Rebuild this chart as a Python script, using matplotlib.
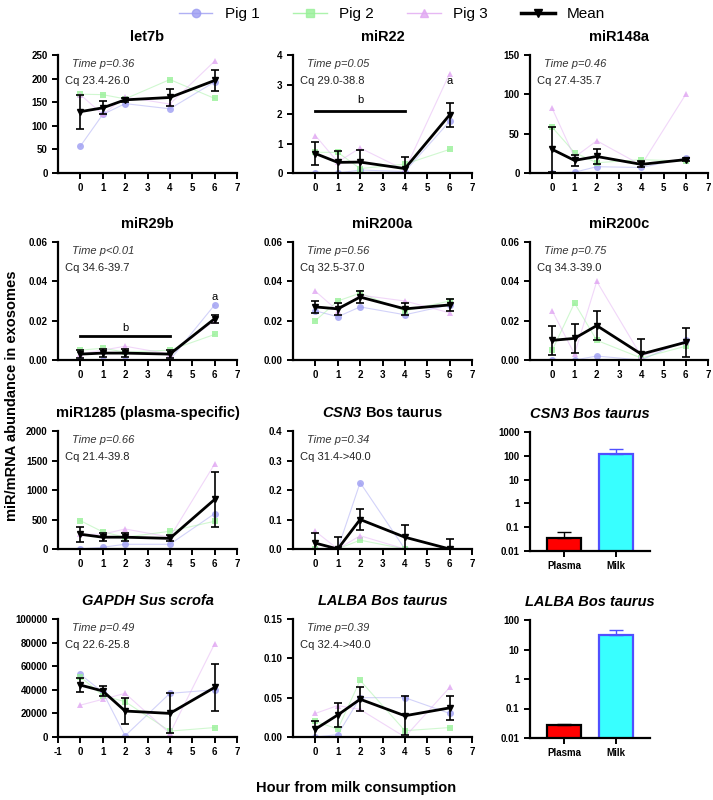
import matplotlib.pyplot as plt
import numpy as np

plt.rcParams['font.family'] = ['Liberation Sans', 'DejaVu Sans']
plt.rcParams['axes.unicode_minus'] = False
plt.rcParams['mathtext.fontset'] = 'custom'
plt.rcParams['mathtext.bfit'] = 'Liberation Sans:italic:bold'
plt.rcParams['mathtext.bf'] = 'Liberation Sans:bold'

hours = [0, 1, 2, 4, 6]

let7b_p1 = [57, 124, 147, 136, 193]
let7b_p2 = [167, 166, 157, 198, 158]
let7b_p3 = [166, 124, 161, 146, 237]
let7b_mean = [130, 138, 155, 160, 196]
let7b_sem = [36, 14, 4, 19, 23]

mir22_p1 = [0.0, 0.0, 0.1, 0.05, 1.75]
mir22_p2 = [0.7, 0.7, 0.15, 0.3, 0.8]
mir22_p3 = [1.27, 0.37, 0.85, 0.1, 3.37]
mir22_mean = [0.66, 0.36, 0.37, 0.15, 1.97]
mir22_sem = [0.4, 0.38, 0.4, 0.4, 0.4]

mir148_p1 = [0, 1, 8, 7, 19]
mir148_p2 = [58, 26, 13, 17, 15]
mir148_p3 = [82, 20, 41, 10, 100]
mir148_mean = [30, 16, 21, 11, 17]
mir148_sem = [29, 7, 10, 4, 2]

mir29b_p1 = [0.0, 0.0, 0.0, 0.0, 0.028]
mir29b_p2 = [0.005, 0.006, 0.004, 0.005, 0.013]
mir29b_p3 = [0.003, 0.005, 0.007, 0.003, 0.020]
mir29b_mean = [0.003, 0.0035, 0.0035, 0.003, 0.021]
mir29b_sem = [0.002, 0.002, 0.002, 0.002, 0.002]

mir200a_p1 = [0.025, 0.022, 0.027, 0.023, 0.028]
mir200a_p2 = [0.020, 0.030, 0.034, 0.025, 0.030]
mir200a_p3 = [0.035, 0.025, 0.033, 0.030, 0.024]
mir200a_mean = [0.027, 0.026, 0.032, 0.026, 0.028]
mir200a_sem = [0.003, 0.003, 0.003, 0.003, 0.003]

mir200c_p1 = [0.0, 0.0, 0.002, 0.0, 0.010]
mir200c_p2 = [0.005, 0.029, 0.010, 0.001, 0.007]
mir200c_p3 = [0.025, 0.003, 0.040, 0.002, 0.009]
mir200c_mean = [0.010, 0.011, 0.0175, 0.003, 0.009]
mir200c_sem = [0.0075, 0.0075, 0.0075, 0.0075, 0.0075]

mir1285_p1 = [0, 30, 80, 80, 600]
mir1285_p2 = [480, 290, 200, 300, 470]
mir1285_p3 = [250, 250, 340, 200, 1440]
mir1285_mean = [250, 200, 200, 180, 840]
mir1285_sem = [130, 70, 70, 50, 460]

csn3_p1 = [0.0, 0.0, 0.225, 0.0, 0.0]
csn3_p2 = [0.0, 0.0, 0.03, 0.0, 0.0]
csn3_p3 = [0.06, 0.0, 0.045, 0.0, 0.0]
csn3_mean = [0.02, 0.0, 0.1, 0.04, 0.0]
csn3_sem = [0.035, 0.04, 0.035, 0.04, 0.035]

gapdh_p1 = [53000, 38000, 1000, 37000, 40000]
gapdh_p2 = [51000, 35000, 30000, 5000, 8000]
gapdh_p3 = [27000, 32000, 37000, 3000, 79000]
gapdh_mean = [44000, 39000, 22000, 20000, 42000]
gapdh_sem = [6000, 4000, 11000, 17000, 20000]

lalba_p1 = [0.0, 0.003, 0.05, 0.05, 0.03]
lalba_p2 = [0.02, 0.01, 0.072, 0.008, 0.012]
lalba_p3 = [0.03, 0.04, 0.035, 0.0, 0.063]
lalba_mean = [0.01, 0.028, 0.048, 0.027, 0.037]
lalba_sem = [0.01, 0.015, 0.015, 0.025, 0.015]

bar_groups = ['Plasma', 'Milk']
csn3_bar = [0.035, 120]
csn3_bar_err = [0.025, 70]
lalba_bar = [0.028, 30]
lalba_bar_err = [0.003, 15]

c1 = '#9c9cf2'
c2 = '#98f098'
c3 = '#e0a6f2'

fig = plt.figure(figsize=(7.13, 8.0), dpi=100)
W, H = 713.0, 800.0

def ax_at(x0, ytop, w, h):
    return fig.add_axes([x0 / W, 1 - (ytop + h) / H, w / W, h / H])

def style(ax):
    ax.spines['top'].set_visible(False)
    ax.spines['right'].set_visible(False)
    ax.spines['left'].set_linewidth(1.6)
    ax.spines['bottom'].set_linewidth(1.6)
    ax.tick_params(width=1.4, length=4, labelsize=7)
    for t in ax.get_xticklabels() + ax.get_yticklabels():
        t.set_fontweight('bold')

def line_panel(ax, title, p1, p2, p3, mean, sem, ymax, yticks, ylabels, ptxt, cqtxt, xneg=False):
    for vals, mk, c in [(p1, 'o', c1), (p2, 's', c2), (p3, '^', c3)]:
        ax.plot(hours, vals, '-', color=c, lw=0.8, alpha=0.45)
        ax.plot(hours, vals, mk, color=c, ms=5, alpha=0.8, markeredgewidth=0)
    ax.errorbar(hours, mean, yerr=sem, color='black', lw=2, marker='v', ms=4,
                capsize=3, elinewidth=1.2, capthick=1.2, zorder=5)
    ax.set_xlim(-1, 7)
    ax.set_ylim(0, ymax)
    if xneg:
        ax.set_xticks(range(-1, 8))
    else:
        ax.set_xticks(range(0, 8))
    ax.set_yticks(yticks)
    ax.set_yticklabels(ylabels)
    ax.text(0.08, 0.97, ptxt, transform=ax.transAxes, fontsize=8, style='italic',
            color='#333333', va='top')
    ax.text(0.04, 0.82, cqtxt, transform=ax.transAxes, fontsize=8, color='#222222', va='top')
    ax.set_title(title, fontsize=10.5, fontweight='bold', pad=10)
    style(ax)

def bar_panel(ax, title, vals, errs, ymax, yticks, ylabels):
    xs = [0, 1]
    ax.bar(xs, vals, width=0.65, color=['#ff0000', '#38ffff'],
           edgecolor=['black', '#5050ff'], linewidth=1.6)
    ax.errorbar(xs[0], vals[0], yerr=[[0], [errs[0]]], color='black', capsize=5, lw=1)
    ax.errorbar(xs[1], vals[1], yerr=[[0], [errs[1]]], color='#5050ff', capsize=5, lw=1)
    ax.set_yscale('log')
    ax.set_ylim(0.01, ymax)
    ax.set_xlim(-0.65, 1.65)
    ax.set_xticks(xs)
    ax.set_xticklabels(bar_groups)
    ax.set_yticks(yticks)
    ax.set_yticklabels(ylabels)
    ax.minorticks_off()
    ax.set_title(title, fontsize=10.5, fontweight='bold', style='italic', pad=10)
    style(ax)

cols = [58, 293, 530]
cw = [179, 179, 178]
rows = [55, 242, 431, 619]
rh = 118

ax = ax_at(cols[0], rows[0], cw[0], rh)
line_panel(ax, 'let7b', let7b_p1, let7b_p2, let7b_p3, let7b_mean, let7b_sem, 250,
           [0, 50, 100, 150, 200, 250], ['0', '50', '100', '150', '200', '250'],
           'Time p=0.36', 'Cq 23.4-26.0')

ax = ax_at(cols[1], rows[0], cw[1], rh)
line_panel(ax, 'miR22', mir22_p1, mir22_p2, mir22_p3, mir22_mean, mir22_sem, 4,
           [0, 1, 2, 3, 4], ['0', '1', '2', '3', '4'], 'Time p=0.05', 'Cq 29.0-38.8')
ax.plot([0, 4], [2.1, 2.1], color='black', lw=2)
ax.text(2, 2.3, 'b', ha='center', va='bottom', fontsize=8)
ax.text(6, 2.95, 'a', ha='center', va='bottom', fontsize=8)

ax = ax_at(cols[2], rows[0], cw[2], rh)
line_panel(ax, 'miR148a', mir148_p1, mir148_p2, mir148_p3, mir148_mean, mir148_sem, 150,
           [0, 50, 100, 150], ['0', '50', '100', '150'], 'Time p=0.46', 'Cq 27.4-35.7')

small = [0, 0.02, 0.04, 0.06]
small_lab = ['0.00', '0.02', '0.04', '0.06']
ax = ax_at(cols[0], rows[1], cw[0], rh)
line_panel(ax, 'miR29b', mir29b_p1, mir29b_p2, mir29b_p3, mir29b_mean, mir29b_sem, 0.06,
           small, small_lab, 'Time p<0.01', 'Cq 34.6-39.7')
ax.plot([0, 4], [0.012, 0.012], color='black', lw=2)
ax.text(2, 0.0135, 'b', ha='center', va='bottom', fontsize=8)
ax.text(6, 0.0295, 'a', ha='center', va='bottom', fontsize=8)

ax = ax_at(cols[1], rows[1], cw[1], rh)
line_panel(ax, 'miR200a', mir200a_p1, mir200a_p2, mir200a_p3, mir200a_mean, mir200a_sem, 0.06,
           small, small_lab, 'Time p=0.56', 'Cq 32.5-37.0')

ax = ax_at(cols[2], rows[1], cw[2], rh)
line_panel(ax, 'miR200c', mir200c_p1, mir200c_p2, mir200c_p3, mir200c_mean, mir200c_sem, 0.06,
           small, small_lab, 'Time p=0.75', 'Cq 34.3-39.0')

ax = ax_at(cols[0], rows[2], cw[0], rh)
line_panel(ax, 'miR1285 (plasma-specific)', mir1285_p1, mir1285_p2, mir1285_p3, mir1285_mean,
           mir1285_sem, 2000, [0, 500, 1000, 1500, 2000], ['0', '500', '1000', '1500', '2000'],
           'Time p=0.66', 'Cq 21.4-39.8')

ax = ax_at(cols[1], rows[2], cw[1], rh)
line_panel(ax, r'$\mathbfit{CSN3}$ Bos taurus', csn3_p1, csn3_p2, csn3_p3, csn3_mean, csn3_sem, 0.4,
           [0, 0.1, 0.2, 0.3, 0.4], ['0.0', '0.1', '0.2', '0.3', '0.4'],
           'Time p=0.34', 'Cq 31.4->40.0')

ax = ax_at(cols[2], rows[2] + 1, 120, 119)
bar_panel(ax, 'CSN3 Bos taurus', csn3_bar, csn3_bar_err, 1000,
          [0.01, 0.1, 1, 10, 100, 1000], ['0.01', '0.1', '1', '10', '100', '1000'])

ax = ax_at(cols[0], rows[3], cw[0], rh)
line_panel(ax, 'GAPDH Sus scrofa', gapdh_p1, gapdh_p2, gapdh_p3, gapdh_mean, gapdh_sem, 100000,
           [0, 20000, 40000, 60000, 80000, 100000],
           ['0', '20000', '40000', '60000', '80000', '100000'],
           'Time p=0.49', 'Cq 22.6-25.8', xneg=True)
ax.title.set_style('italic')

ax = ax_at(cols[1], rows[3], cw[1], rh)
line_panel(ax, 'LALBA Bos taurus', lalba_p1, lalba_p2, lalba_p3, lalba_mean, lalba_sem, 0.15,
           [0, 0.05, 0.10, 0.15], ['0.00', '0.05', '0.10', '0.15'],
           'Time p=0.39', 'Cq 32.4->40.0')
ax.title.set_style('italic')

ax = ax_at(cols[2], rows[3] + 1, 120, 118)
bar_panel(ax, 'LALBA Bos taurus', lalba_bar, lalba_bar_err, 100,
          [0.01, 0.1, 1, 10, 100], ['0.01', '0.1', '1', '10', '100'])

# legend at top
handles = [
    plt.Line2D([], [], color=c1, marker='o', lw=1, ms=6, alpha=0.8),
    plt.Line2D([], [], color=c2, marker='s', lw=1, ms=6, alpha=0.8),
    plt.Line2D([], [], color=c3, marker='^', lw=1, ms=6, alpha=0.8),
    plt.Line2D([], [], color='black', marker='v', lw=2.5, ms=6),
]
fig.legend(handles, ['Pig 1', 'Pig 2', 'Pig 3', 'Mean'], loc='upper center',
           bbox_to_anchor=(0.55, 1.008), ncol=4, frameon=False, fontsize=11,
           handlelength=2.2, columnspacing=2.2)

fig.text(0.017, 0.505, 'miR/mRNA abundance in exosomes', rotation=90, ha='center',
         va='center', fontsize=10.5, fontweight='bold')
fig.text(0.5, 0.015, 'Hour from milk consumption', ha='center', va='center',
         fontsize=10.5, fontweight='bold')

fig.savefig('out.png', dpi=100)
